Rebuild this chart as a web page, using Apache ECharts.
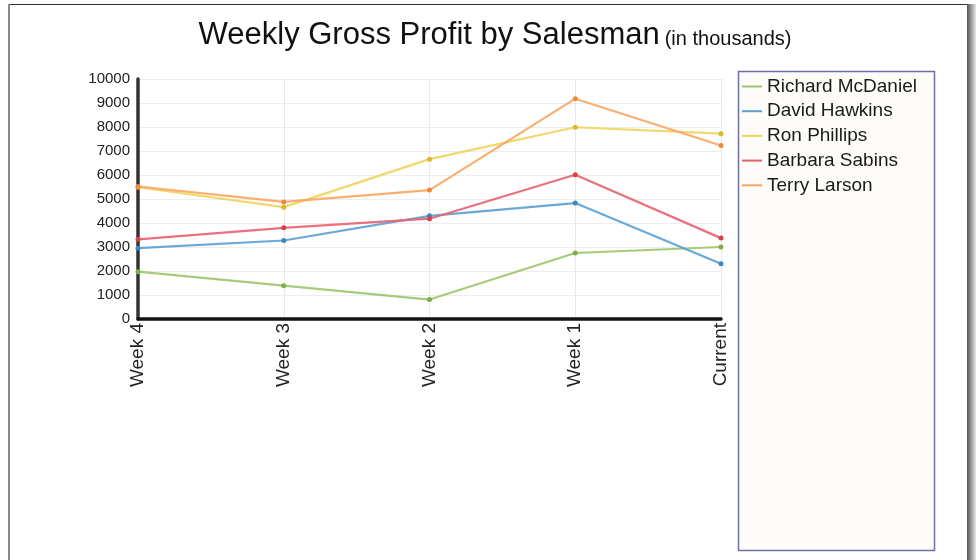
<!DOCTYPE html>
<html>
<head>
<meta charset="utf-8">
<title>Weekly Gross Profit by Salesman</title>
<script src="https://cdn.jsdelivr.net/npm/echarts@6/dist/echarts.min.js"></script>
<style>
  html, body { margin: 0; padding: 0; background: #fff; }
  #chart { width: 976px; height: 560px; }
</style>
</head>
<body>
<div id="chart"></div>
<script>
// categories and values
const weeks = ['Week 4', 'Week 3', 'Week 2', 'Week 1', 'Current']
const salesmen = ['Richard McDaniel', 'David Hawkins', 'Ron Phillips', 'Barbara Sabins', 'Terry Larson']

const richard = [1970, 1390, 810, 2750, 3000]
const david = [2950, 3270, 4300, 4830, 2300]
const ron = [5490, 4660, 6660, 7990, 7720]
const barbara = [3320, 3800, 4180, 6010, 3370]
const terry = [5520, 4880, 5370, 9180, 7230]

const seriesValues = [richard, david, ron, barbara, terry]
const colors = ['#9dc56b', '#5b9fd4', '#f0d45a', '#e8626e', '#f9a560']
const markColors = ['#7fae4a', '#3f86c0', '#d9b830', '#d9404e', '#f0883a']

const chart = echarts.init(document.getElementById('chart'), null, { renderer: 'canvas' })

const font = '"Liberation Sans", Arial, sans-serif'

const series = salesmen.map((name, i) => ({
  name,
  type: 'line',
  data: seriesValues[i],
  symbol: 'circle',
  symbolSize: 5,
  showSymbol: true,
  lineStyle: { width: 2.2, color: colors[i], opacity: 0.9 },
  itemStyle: { color: markColors[i] },
  emphasis: { disabled: true },
  z: 3
}))

chart.setOption({
  animation: false,
  backgroundColor: '#fff',
  title: {
    text: '{main|Weekly Gross Profit by Salesman} {sub|(in thousands)}',
    left: 490,
    textAlign: 'center',
    top: 15,
    textStyle: {
      fontWeight: 'normal',
      rich: {
        main: { fontFamily: font, fontSize: 31, fontWeight: 'normal', color: '#111' },
        sub: { fontFamily: font, fontSize: 20, fontWeight: 'normal', color: '#111', padding: [7, 0, 0, 0] }
      }
    }
  },
  graphic: [
    // page frame: top rule, left rule, right shadow
    { type: 'rect', shape: { x: 8, y: 4, width: 960, height: 1 }, style: { fill: '#333' }, silent: true },
    { type: 'rect', shape: { x: 8, y: 4, width: 2, height: 556 }, style: { fill: '#8a8a8a' }, silent: true },
    {
      type: 'rect', shape: { x: 967, y: 4, width: 9, height: 556 }, silent: true,
      style: {
        fill: new echarts.graphic.LinearGradient(0, 0, 1, 0, [
          { offset: 0, color: '#555' }, { offset: 1, color: '#e8e8e8' }
        ])
      }
    },
    // legend box
    {
      type: 'rect', shape: { x: 738.5, y: 71.5, width: 196, height: 479 }, silent: true, z: 0,
      style: { fill: '#fdfcf8', stroke: '#6e6ea8', lineWidth: 1.5 }
    }
  ],
  legend: {
    orient: 'vertical',
    left: 737,
    top: 77,
    padding: [0, 0, 0, 5],
    itemGap: 5.7,
    itemWidth: 20,
    itemHeight: 2,
    icon: 'rect',
    data: salesmen.map((n, i) => ({ name: n, itemStyle: { color: colors[i] } })),
    textStyle: { fontFamily: font, fontSize: 19, color: '#1a1a1a', padding: [0, 0, 0, 0] },
    selectedMode: false
  },
  grid: { left: 138, right: 255, top: 79, bottom: 241, containLabel: false },
  xAxis: {
    type: 'category',
    data: weeks,
    boundaryGap: false,
    axisLine: { show: true, lineStyle: { color: '#111', width: 3.5 } },
    axisTick: { show: false },
    axisLabel: {
      rotate: 90,
      fontFamily: font,
      fontSize: 19,
      color: '#222',
      margin: 4
    },
    splitLine: { show: true, lineStyle: { color: '#e8e8e8', width: 1 } }
  },
  yAxis: {
    type: 'value',
    min: 0,
    max: 10000,
    interval: 1000,
    axisLine: { show: true, lineStyle: { color: '#333', width: 3.5 } },
    axisTick: { show: false },
    axisLabel: {
      fontFamily: font,
      fontSize: 15,
      color: '#222',
      margin: 8,
      formatter: v => String(v)
    },
    splitLine: { show: true, lineStyle: { color: '#eeeeee', width: 1 } }
  },
  series
})
</script>
</body>
</html>
